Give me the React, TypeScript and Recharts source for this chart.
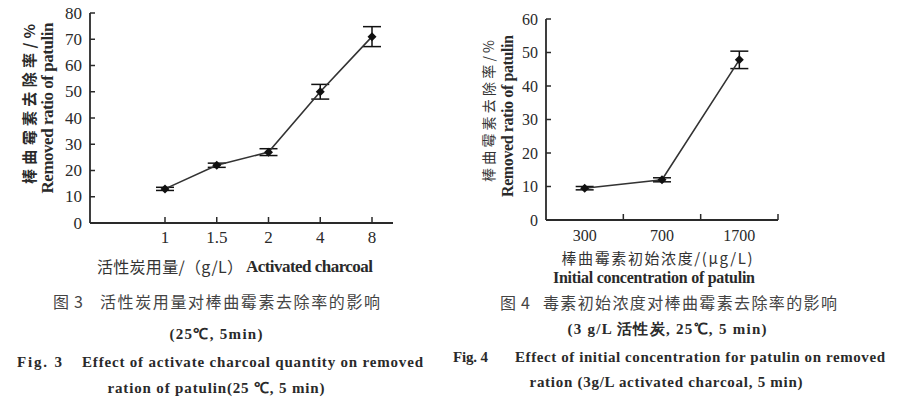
import { LineChart, Line, XAxis, YAxis, ErrorBar } from "recharts";

// Fig. 3: activated charcoal dose vs removal ratio
const doses = ["1", "1.5", "2", "4", "8"];
const doseRemoval = [13, 22, 27, 50, 71];
const doseError = [0.6, 0.8, 1.3, 2.8, 3.8];
const doseTicks = [0, 10, 20, 30, 40, 50, 60, 70, 80];

// Fig. 4: initial patulin concentration vs removal ratio
const concentrations = ["300", "700", "1700"];
const concRemoval = [9.5, 12, 47.8];
const concError = [0.5, 0.6, 2.6];
const concTicks = [0, 10, 20, 30, 40, 50, 60];

const SERIF = "'Liberation Serif', 'Times New Roman', serif";
const CJK = "'Noto Sans CJK SC', sans-serif";
const INK = "#2a2a2a";

const doseData = doses.map((d, i) => ({ dose: d, value: doseRemoval[i], err: doseError[i] }));
const concData = concentrations.map((c, i) => ({ pos: i + 0.5, value: concRemoval[i], err: concError[i] }));

function Diamond(props: any) {
  const { cx, cy, index } = props;
  if (cx == null || cy == null) return null;
  const r = 4.5;
  return (
    <path
      key={`d-${index}`}
      d={`M${cx},${cy - r}L${cx + r},${cy}L${cx},${cy + r}L${cx - r},${cy}Z`}
      fill="#111"
    />
  );
}

// left axis: label left of axis, tick mark pointing into the plot
function makeYTick(size: number) {
  return function YTick(props: any) {
    const { x, y, payload } = props;
    return (
      <g>
        <line x1={x + 8} x2={x + 13} y1={y} y2={y} stroke={INK} strokeWidth={1.5} />
        <text x={x} y={y} textAnchor="end" dominantBaseline="central" fontFamily={SERIF} fontSize={size} fill={INK}>
          {payload.value}
        </text>
      </g>
    );
  };
}
const DoseYTick = makeYTick(17);
const ConcYTick = makeYTick(16);

function DoseTick(props: any) {
  const { x, y, payload } = props;
  return (
    <g>
      <line x1={x} x2={x} y1={y} y2={y - 6} stroke={INK} strokeWidth={1.5} />
      <text x={x} y={y + 14} textAnchor="middle" dominantBaseline="central" fontFamily={SERIF} fontSize={17} fill={INK}>
        {payload.value}
      </text>
    </g>
  );
}

// integer positions are band boundaries (tick marks), halves carry labels
function ConcTick(props: any) {
  const { x, y, payload } = props;
  const v = payload.value as number;
  if (Number.isInteger(v)) {
    return <line x1={x} x2={x} y1={y} y2={y - 6} stroke={INK} strokeWidth={1.5} />;
  }
  return (
    <text x={x} y={y + 15} textAnchor="middle" dominantBaseline="central" fontFamily={SERIF} fontSize={16} fill={INK}>
      {concentrations[Math.floor(v)]}
    </text>
  );
}

function VLabel({ x, y, children, font, size, bold, len, fill = INK }: any) {
  return (
    <text
      x={x}
      y={y}
      transform={`rotate(-90 ${x} ${y})`}
      textAnchor="middle"
      dominantBaseline="central"
      fontFamily={font}
      fontSize={size}
      fontWeight={bold ? "bold" : "normal"}
      fill={fill}
      textLength={len}
      lengthAdjust={len ? "spacing" : undefined}
    >
      {children}
    </text>
  );
}

function T({ x, y, children, font = SERIF, size = 14, bold = false, anchor = "middle", len, fill = INK }: any) {
  return (
    <text
      x={x}
      y={y}
      textAnchor={anchor}
      dominantBaseline="central"
      fontFamily={font}
      fontSize={size}
      fontWeight={bold ? "bold" : "normal"}
      fill={fill}
      textLength={len}
      lengthAdjust={len ? "spacing" : undefined}
    >
      {children}
    </text>
  );
}

export default function App() {
  return (
    <div style={{ position: "absolute", left: 0, top: 0, width: 900, height: 400, background: "#fff" }}>
      <div style={{ position: "absolute", left: 0, top: 0 }}>
        <LineChart width={420} height={290} data={doseData} margin={{ top: 13, right: 27, bottom: 0, left: 40 }}>
          <XAxis
            dataKey="dose"
            type="category"
            padding={{ left: 75, right: 21 }}
            height={67}
            tickSize={0}
            tickMargin={0}
            tickLine={false}
            tick={<DoseTick />}
            axisLine={{ stroke: INK, strokeWidth: 1.8 }}
          />
          <YAxis
            type="number"
            domain={[0, 80]}
            ticks={doseTicks}
            width={50}
            tickSize={0}
            tickMargin={8}
            tickLine={false}
            tick={<DoseYTick />}
            axisLine={{ stroke: INK, strokeWidth: 1.8 }}
          />
          <Line
            dataKey="value"
            stroke="#333"
            strokeWidth={1.6}
            dot={Diamond}
            activeDot={false}
            isAnimationActive={false}
          >
            <ErrorBar dataKey="err" width={9} stroke="#111" strokeWidth={1.5} />
          </Line>
        </LineChart>
      </div>
      <div style={{ position: "absolute", left: 460, top: 0 }}>
        <LineChart width={440} height={290} data={concData} margin={{ top: 19, right: 122, bottom: 0, left: 36 }}>
          <XAxis
            dataKey="pos"
            type="number"
            domain={[0, 3]}
            ticks={[0.5, 1, 1.5, 2, 2.5, 3]}
            interval={0}
            height={70}
            tickSize={0}
            tickMargin={0}
            tickLine={false}
            tick={<ConcTick />}
            axisLine={{ stroke: INK, strokeWidth: 1.8 }}
          />
          <YAxis
            type="number"
            domain={[0, 60]}
            ticks={concTicks}
            width={50}
            tickSize={0}
            tickMargin={8}
            tickLine={false}
            tick={<ConcYTick />}
            axisLine={{ stroke: INK, strokeWidth: 1.8 }}
          />
          <Line
            dataKey="value"
            stroke="#333"
            strokeWidth={1.6}
            dot={Diamond}
            activeDot={false}
            isAnimationActive={false}
          >
            <ErrorBar dataKey="err" width={9} stroke="#111" strokeWidth={1.5} />
          </Line>
        </LineChart>
      </div>
      <svg width={900} height={400} style={{ position: "absolute", left: 0, top: 0, pointerEvents: "none" }}>
        {/* axis titles, Fig. 3 */}
        <VLabel x={28} y={104} font={CJK} size={15} bold len={160}>棒曲霉素去除率/%</VLabel>
        <VLabel x={47} y={108} font={SERIF} size={17} bold len={171}>Removed ratio of patulin</VLabel>
        <T x={97} y={266} font={CJK} size={16} anchor="start" fill="#333" len={146}>活性炭用量/（g/L）</T>
        <T x={246} y={266} size={17} bold anchor="start" len={127}>Activated charcoal</T>

        {/* axis titles, Fig. 4 */}
        <VLabel x={488} y={111} font={CJK} size={14} len={142} fill="#333">棒曲霉素去除率/%</VLabel>
        <VLabel x={507} y={116} font={SERIF} size={16} bold len={162}>Removed ratio of patulin</VLabel>
        <T x={657} y={257} font={CJK} size={15} fill="#333" len={191}>棒曲霉素初始浓度/(μg/L)</T>
        <T x={654} y={277} size={16} bold len={202}>Initial concentration of patulin</T>

        {/* captions, Fig. 3 */}
        <T x={53} y={301} font={CJK} size={16} fill="#444" anchor="start" len={30}>图3</T>
        <T x={100} y={301} font={CJK} size={16} fill="#444" anchor="start" len={280}>活性炭用量对棒曲霉素去除率的影响</T>
        <T x={216} y={334} size={15} bold len={93}>(25℃, 5min)</T>
        <T x={17} y={362} size={15} bold anchor="start" len={45}>Fig. 3</T>
        <T x={82} y={362} size={15} bold anchor="start" len={341}>Effect of activate charcoal quantity on removed</T>
        <T x={216} y={388} size={15} bold len={217}>ration of patulin(25 ℃, 5 min)</T>

        {/* captions, Fig. 4 */}
        <T x={500} y={302} font={CJK} size={16} fill="#444" anchor="start" len={30}>图 4</T>
        <T x={543} y={302} font={CJK} size={16} fill="#444" anchor="start" len={294}>毒素初始浓度对棒曲霉素去除率的影响</T>
        <T x={667} y={329} size={15} bold len={199}>(3 g/L 活性炭, 25℃, 5 min)</T>
        <T x={453} y={357} size={15} bold anchor="start" len={35}>Fig. 4</T>
        <T x={515} y={357} size={15} bold anchor="start" len={370}>Effect of initial concentration for patulin on removed</T>
        <T x={666} y={382} size={15} bold len={273}>ration (3g/L activated charcoal, 5 min)</T>
      </svg>
    </div>
  );
}
